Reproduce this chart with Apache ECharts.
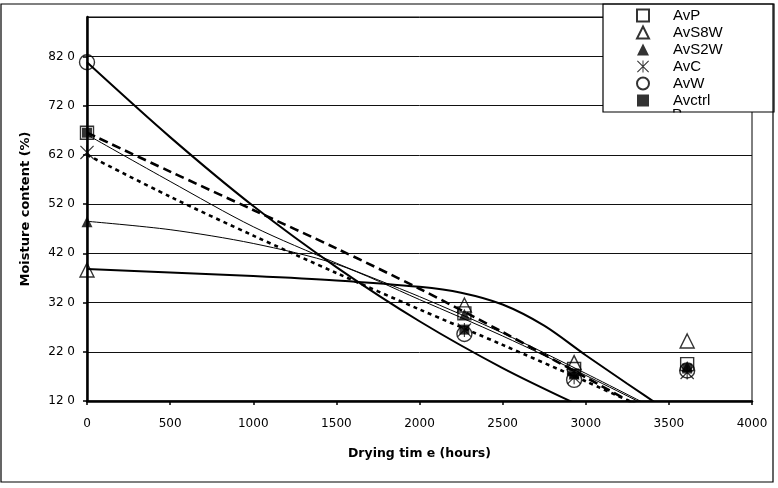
<!DOCTYPE html>
<html><head><meta charset="utf-8">
<script src="https://cdn.jsdelivr.net/npm/echarts@6/dist/echarts.min.js"></script>
<style>html,body{margin:0;padding:0;background:#fff}#c{width:778px;height:488px}</style>
</head><body><div id="c"></div>
<script>
// ---- data ----
const times = [0, 2270, 2930, 3610];
const avP    = [66.5, 29.8, 18.5, 19.5];
const avS8W  = [38.6, 31.5, 19.8, 24.2];
const avS2W  = [48.4, 29.6, 17.5, 19.0];
const avC    = [62.5, 26.4, 16.8, 17.8];
const avW    = [80.8, 25.6, 16.3, 18.2];
const avCtrl = [66.5, 26.5, 17.6, 18.6];

// trendlines: [hours, moisture]
const trendAvW    = [[0,80.8],[500,65.6],[1000,51.6],[1500,39.2],[2000,28.2],[2500,18.7],[3000,10.5]];
const trendAvS8W  = [[0,38.8],[500,38.1],[1000,37.4],[1500,36.5],[2000,35.2],[2250,34.0],[2500,31.6],[2750,27.3],[3000,21.3],[3250,15.5],[3500,9.8]];
const trendAvP    = [[0,66.5],[500,58.6],[1000,50.8],[1500,43.0],[2000,34.8],[2500,26.0],[3000,16.8],[3500,7.5]];
const trendAvCtrl = [[0,66.1],[500,56.6],[1000,47.4],[1500,40.0],[2000,33.2],[2500,25.8],[3000,17.6],[3500,9.0]];
const trendAvC    = [[0,62.0],[500,53.5],[1000,45.6],[1500,38.0],[2000,30.6],[2500,23.4],[3000,16.0],[3500,8.3]];
const trendAvS2W  = [[0,48.5],[500,46.8],[1000,44.0],[1500,39.8],[2000,32.6],[2500,25.2],[3000,17.2],[3500,8.8]];

const xTickLabels = ['0','500','1000','1500','2000','2500','3000','3500','4000'];
const yTickLabels = ['12 0','22 0','32 0','42 0','52 0','62 0','72 0','82 0'];
const seriesNames = ['AvP','AvS8W','AvS2W','AvC','AvW','Avctrl'];
const xTitle = 'Drying tim e (hours)';
const yTitle = 'Moisture content (%)';

// ---- chart ----
const asterisk = 'path://M9.2,0 L10.8,0 L10.8,20 L9.2,20 Z M0,1.2 L1.2,0 L20,18.8 L18.8,20 Z M18.8,0 L20,1.2 L1.2,20 L0,18.8 Z';
const pts = arr => times.map((t, i) => [t, arr[i]]);
const emptyStyle = {color: 'rgba(255,255,255,0)', borderColor: '#000', borderWidth: 1.4};
const fillStyle = {color: '#000', borderWidth: 0};

function scatter(name, data, symbol, size, style) {
  return {type: 'scatter', name, data: pts(data), symbol, symbolSize: size,
          itemStyle: style, z: 5, emphasis: {disabled: true}, silent: true};
}
function trend(data, width, type) {
  return {type: 'line', data, showSymbol: false, symbol: 'none', smooth: 0.3, clip: true,
          lineStyle: {color: '#000', width, type}, z: 3, silent: true, emphasis: {disabled: true}};
}

const chart = echarts.init(document.getElementById('c'), null, {renderer: 'canvas'});
chart.setOption({
  animation: false,
  backgroundColor: '#fff',
  grid: {left: 87, right: 26, top: 17, bottom: 87, show: true, borderColor: '#000', borderWidth: 1, backgroundColor: '#fff'},
  xAxis: {
    type: 'value', min: 0, max: 4000, interval: 500,
    axisLine: {show: true, onZero: false, lineStyle: {color: '#000', width: 2.5}},
    axisTick: {show: true, length: 4, lineStyle: {color: '#000', width: 1.5}},
    axisLabel: {color: '#000', fontSize: 12, fontFamily: 'DejaVu Sans', margin: 17,
                formatter: v => xTickLabels[Math.round(v / 500)]},
    splitLine: {show: false},
    name: xTitle, nameLocation: 'middle', nameGap: 46,
    nameTextStyle: {color: '#000', fontSize: 12.5, fontWeight: 'bold', fontFamily: 'DejaVu Sans'}
  },
  yAxis: {
    type: 'value', min: 12, max: 90, interval: 10,
    axisLine: {show: true, onZero: false, lineStyle: {color: '#000', width: 2.5}},
    axisTick: {show: true, length: 4, lineStyle: {color: '#000', width: 1.5}},
    axisLabel: {color: '#000', fontSize: 12, fontFamily: 'DejaVu Sans', margin: 12, showMaxLabel: false,
                formatter: v => { const i = Math.round((v - 12) / 10); return (Math.abs(v - 12 - i * 10) < 0.01 && yTickLabels[i]) ? yTickLabels[i] : ''; }},
    splitLine: {show: true, lineStyle: {color: '#111', width: 1}},
    name: yTitle, nameLocation: 'middle', nameGap: 55, nameRotate: 90,
    nameTextStyle: {color: '#000', fontSize: 13, fontWeight: 'bold', fontFamily: 'DejaVu Sans'}
  },
  legend: {
    data: seriesNames, orient: 'vertical', left: 636, top: 8, padding: 0,
    itemWidth: 12, itemHeight: 12, itemGap: 2, z: 50, selectedMode: false,
    textStyle: {color: '#000', fontSize: 15, fontFamily: 'Liberation Sans', padding: [0, 0, 0, 19]}
  },
  graphic: {elements: [
    {type: 'rect', shape: {x: 1, y: 4, width: 772, height: 478}, style: {fill: 'none', stroke: '#000', lineWidth: 1.2}, z: 45, silent: true},
    {type: 'rect', shape: {x: 603, y: 4, width: 171, height: 108}, style: {fill: '#fff', stroke: 'none'}, z: 40, silent: true},
    {type: 'text', x: 672, y: 107, style: {text: 'P', fontSize: 15, fontFamily: 'Liberation Sans', fill: '#000', verticalAlign: 'top'}, z: 51, silent: true},
    {type: 'rect', shape: {x: 660, y: 112.5, width: 40, height: 12}, style: {fill: '#fff', stroke: 'none'}, z: 52, silent: true},
    {type: 'rect', shape: {x: 603, y: 4, width: 171, height: 108}, style: {fill: 'none', stroke: '#000', lineWidth: 1.2}, z: 53, silent: true}
  ]},
  series: [
    trend(trendAvW, 2, 'solid'),
    trend(trendAvS8W, 2, 'solid'),
    trend(trendAvS2W, 1, 'solid'),
    trend(trendAvCtrl, 1, 'solid'),
    trend(trendAvP, 2.6, [9, 5]),
    trend(trendAvC, 2.6, [4, 4]),
    scatter('AvP', avP, 'rect', 13, emptyStyle),
    scatter('AvS8W', avS8W, 'triangle', 14, emptyStyle),
    scatter('AvS2W', avS2W, 'triangle', 11, fillStyle),
    scatter('AvC', avC, asterisk, 14, fillStyle),
    scatter('AvW', avW, 'circle', 15, emptyStyle),
    scatter('Avctrl', avCtrl, 'rect', 10, fillStyle)
  ]
});
</script></body></html>
